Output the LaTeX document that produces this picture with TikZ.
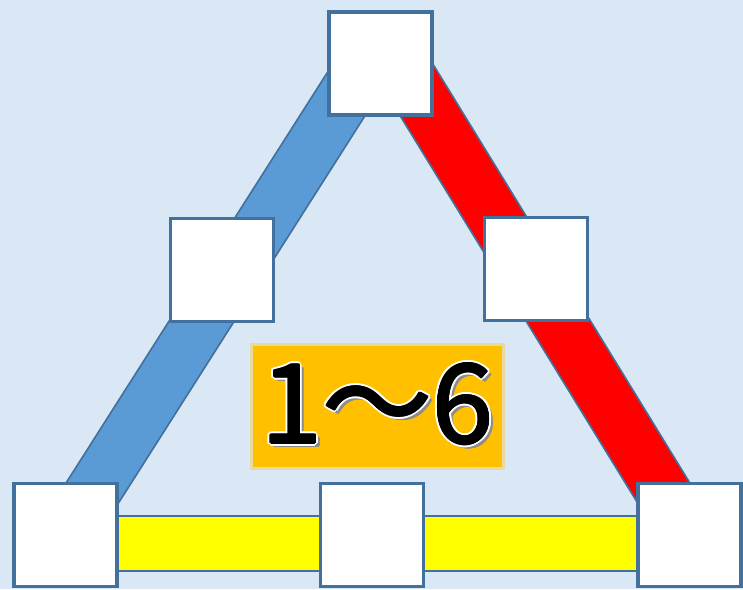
\documentclass[tikz,border=0pt]{standalone}
\usepackage{fontspec}
\newfontfamily\jpfont{Noto Sans CJK JP}
\usetikzlibrary{calc,backgrounds}

\definecolor{bgblue}{RGB}{218,232,246}
\definecolor{edgeblue}{RGB}{65,113,156}
\definecolor{bandblue}{RGB}{91,155,213}
\definecolor{bandred}{RGB}{255,0,0}
\definecolor{bandyellow}{RGB}{255,255,0}
\definecolor{labelorange}{RGB}{255,192,0}

\newcommand{\rangetext}{\jpfont\fontsize{110}{110}\selectfont 1～6}

\begin{document}
\begin{tikzpicture}[x=1pt, y=-1pt,
  cell/.style={draw=edgeblue, line width=3.5pt, fill=white, minimum size=103pt, inner sep=0pt},
  band/.style={draw=edgeblue, line width=1.8pt, double distance=53pt},
  numlayer/.style={inner sep=0pt, anchor=center}
]
\useasboundingbox (0,0) rectangle (743,589);

% the six cells
\node[cell] (top) at (380.5,63.5) {};
\node[cell] (lmid) at (222,270) {};
\node[cell] (rmid) at (536,269) {};
\node[cell] (bl) at (65.5,535) {};
\node[cell] (bmid) at (372,535) {};
\node[cell] (br) at (689.5,535) {};

% band ends that are not cell centres
\coordinate (bluetop) at (366,63);
\coordinate (redtop) at (400,63);
\coordinate (yelA) at (65,543.5);
\coordinate (yelB) at (689,543.5);

\begin{scope}[on background layer]
  \fill[bgblue] (0,0) rectangle (743,589);
  \draw[band, double=bandyellow] (yelA) -- (yelB);
  \draw[band, double=bandblue] (bl.center) -- (bluetop);
  \draw[band, double=bandred] (redtop) -- (br.center);
\end{scope}

% centre label
\node[fill=labelorange, opacity=0.35, minimum width=255pt, minimum height=127pt] (rangeglow) at (377.5,406.5) {};
\node[fill=labelorange, minimum width=249pt, minimum height=121pt] (range) at (377.5,406.5) {};
\foreach \a in {0,45,...,315}
  \node[numlayer, text=black!45] (numshadow\a) at ($(381,407.5)+(\a:1.2)$) {\rangetext};
\foreach \a in {0,30,...,330}
  \node[numlayer, text=white] (numglow\a) at ($(377.5,404)+(\a:2.9)$) {\rangetext};
\foreach \a in {0,45,...,315}
  \node[numlayer, text=black] (numbold\a) at ($(377.5,404)+(\a:0.8)$) {\rangetext};
\node[numlayer, text=black] (num) at (377.5,404) {\rangetext};

\end{tikzpicture}
\end{document}
